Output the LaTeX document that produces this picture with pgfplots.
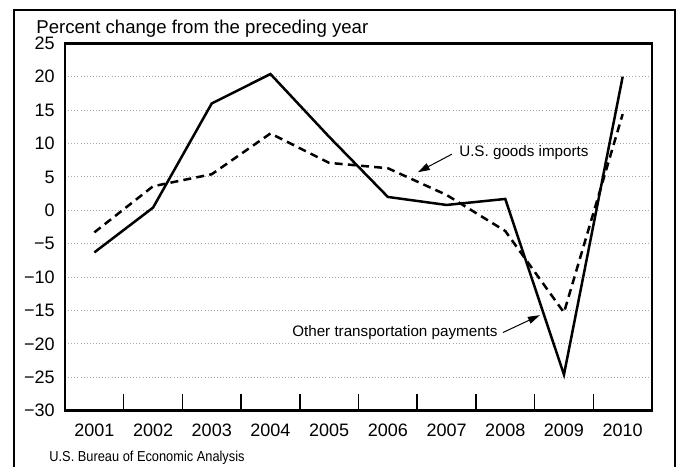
\documentclass[border=0pt]{standalone}
\usepackage{fontspec}
\setmainfont{Liberation Sans}
\usepackage{pgfplots}
\pgfplotsset{compat=1.18}
\usetikzlibrary{arrows.meta}
\begin{document}
\begin{tikzpicture}
\path[use as bounding box] (0pt,0pt) rectangle (339pt,-233pt);
\draw[line width=1pt] (6.75pt,-4.75pt) rectangle (337.25pt,-245pt);
\node[anchor=base west, inner sep=0pt, font=\fontsize{9.3}{10}\selectfont] at (18pt,-16.5pt) {Percent change from the preceding year};
\node[anchor=base west, inner sep=0pt, font=\fontsize{7.2}{8}\selectfont] at (24.5pt,-230.5pt) {\scalebox{0.89}[1]{U.S. Bureau of Economic Analysis}};
\begin{axis}[
  at={(32.5pt,-205.35pt)}, anchor=south west,
  scale only axis, width=293.5pt, height=183.7pt,
  xmin=-0.5, xmax=9.5, ymin=-30, ymax=25,
  xtick={0,...,9},
  xticklabels={2001,2002,2003,2004,2005,2006,2007,2008,2009,2010},
  minor xtick={0.5,1.5,...,8.5},
  ytick={-30,-25,...,25},
  yticklabels={−30,−25,−20,−15,−10,−5,0,5,10,15,20,25},
  major tick length=0pt, minor tick length=8.5pt,
  tick align=inside, xtick pos=bottom, ytick pos=left,
  minor tick style={line width=0.75pt, black},
  ymajorgrids,
  major grid style={gray!70, line width=0.45pt, dash pattern=on 0.45pt off 1.1pt},
  axis line style={line width=1.25pt},
  tick label style={font=\fontsize{9}{10}\selectfont, inner sep=0pt},
  xticklabel style={anchor=north, yshift=-6.4pt},
  yticklabel style={anchor=east, xshift=-5pt},
  clip=false,
]
\addplot[black, line width=1.25pt] coordinates {
  (0,-6.3) (1,0.4) (2,16) (3,20.4) (4,11) (5,2.0) (6,0.8) (7,1.7) (8,-24.6) (9,20)
};
\addplot[black, line width=1.25pt, dash pattern=on 4pt off 2.6pt] coordinates {
  (0,-3.3) (1,3.6) (2,5.4) (3,11.5) (4,7.1) (5,6.3) (6,2.3) (7,-3.1) (8,-15.3) (9,14.4)
};
\node[anchor=west, inner sep=0pt, font=\fontsize{7.6}{9}\selectfont] at (axis cs:6.21,8.7) {U.S. goods imports};
\draw[line width=0.5pt, -{Triangle[length=6pt,width=3.6pt]}] (axis cs:6.09,8.4) -- (axis cs:5.51,5.7);
\node[anchor=east, inner sep=0pt, font=\fontsize{7.6}{9}\selectfont] at (axis cs:6.876,-18.3) {Other transportation payments};
\draw[line width=0.5pt, -{Triangle[length=6pt,width=3.6pt]}] (axis cs:6.96,-18.3) -- (axis cs:7.59,-15.7);
\end{axis}
\end{tikzpicture}
\end{document}
